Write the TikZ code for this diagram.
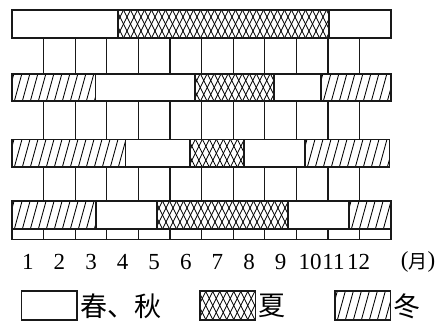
\documentclass[tikz,border=0pt]{standalone}
\usepackage{fontspec}
\setmainfont{Liberation Serif}
\newfontfamily\cjk{Noto Sans CJK SC}
\usetikzlibrary{calc}
\begin{document}
\begin{tikzpicture}[x=1pt,y=-1pt,
  edge/.style={line width=1.1pt, draw=black!90},
  hatchline/.style={line width=0.85pt, black},
  xia/.style={path picture={
    \foreach \i in {0,...,60}{
      \draw[hatchline] ($(path picture bounding box.south west)+(\i*7-25,5)$) -- ++(20,-40);
      \draw[hatchline] ($(path picture bounding box.north west)+(\i*7-25,-5)$) -- ++(20,40);
    }}},
  dong/.style={path picture={
    \foreach \i in {0,...,50}{
      \draw[hatchline] ($(path picture bounding box.south west)+(\i*8-15,5)$) -- ++(11,-40);
    }}},
  num/.style={font=\fontsize{23}{23}\selectfont, inner sep=0pt, anchor=center},
  leg/.style={font=\cjk\fontsize{27}{27}\selectfont, inner sep=0pt, anchor=west}
]
\useasboundingbox (0,0) rectangle (439,321);
% month boundaries: 12 + 31.6 k
% band 1
\draw[edge] (12,10) rectangle (118,38);
\draw[edge,xia] (118,10) rectangle (329,38);
\draw[edge] (329,10) rectangle (391,38);
% band 2
\draw[edge,dong] (12,74) rectangle (95.5,101);
\draw[edge] (95.5,74) rectangle (195,101);
\draw[edge,xia] (195,74) rectangle (274,101);
\draw[edge] (274,74) rectangle (321,101);
\draw[edge,dong] (321,74) rectangle (391,101);
% band 3
\draw[edge,dong] (12,139.5) rectangle (125.5,167);
\draw[edge] (125.5,139.5) rectangle (190,167);
\draw[edge,xia] (190,139.5) rectangle (244,167);
\draw[edge] (244,139.5) rectangle (305,167);
\draw[edge,dong] (305,139.5) rectangle (389.5,167);
% band 4
\draw[edge,dong] (12,201) rectangle (96,229);
\draw[edge] (96,201) rectangle (157,229);
\draw[edge,xia] (157,201) rectangle (288,229);
\draw[edge] (288,201) rectangle (349,229);
\draw[edge,dong] (349,201) rectangle (391,229);
% bottom strip
\draw[edge] (12,229) rectangle (391,239.5);
% brick verticals
\foreach \k in {1,...,11}{
  \pgfmathsetmacro\xx{12+31.6*\k}
  \draw[edge] (\xx,38) -- (\xx,74);
  \draw[edge] (\xx,101) -- (\xx,139.5);
  \draw[edge] (\xx,167) -- (\xx,201);
  \draw[edge] (\xx,229) -- (\xx,239.5);
}
% month labels
\foreach \k in {1,...,9}{
  \pgfmathsetmacro\xx{12+31.6*(\k-0.5)}
  \node[num] (m\k) at (\xx,262) {\k};
}
\node[num] (m10) at (310,262) {10};
\node[num] (m11) at (333.5,262) {11};
\node[num] (m12) at (358.5,262) {12};
\node[num] (unit) at (418,262) {(\raisebox{-0.5pt}{\cjk\fontsize{19}{19}\selectfont 月})};
% legend
\draw[edge] (21.7,291) rectangle (77,320);
\node[leg] (lchun) at (80,306) {春、秋};
\draw[edge,xia] (200,291) rectangle (255.7,320);
\node[leg] (lxia) at (258,306) {夏};
\draw[edge,dong] (335,291) rectangle (390.7,320);
\node[leg] (ldong) at (393,306) {冬};
\end{tikzpicture}
\end{document}
